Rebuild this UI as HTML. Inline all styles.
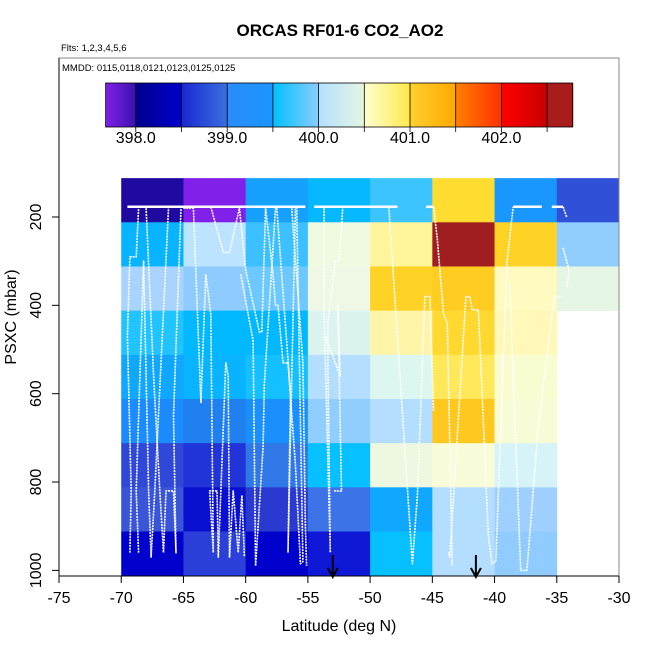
<!DOCTYPE html>
<html><head><meta charset="utf-8"><style>
html,body{margin:0;padding:0;background:#fff;}
svg{display:block;font-family:"Liberation Sans",Arial,sans-serif;}
</style></head><body>
<svg id="chart" width="650" height="650" viewBox="0 0 650 650" xmlns="http://www.w3.org/2000/svg">
<text x="340" y="36" text-anchor="middle" font-size="17" font-weight="bold">ORCAS RF01-6 CO2_AO2</text>
<text x="61" y="51" font-size="9.5">Flts: 1,2,3,4,5,6</text>
<text x="62" y="71" font-size="9.5">MMDD: 0115,0118,0121,0123,0125,0125</text>
<defs id="defs"></defs>
<g id="colorbar"></g>
<g id="cells"></g>
<g id="tracks"></g>
<g id="arrows"></g>
<rect x="59" y="58" width="560" height="518" fill="none" stroke="#888" stroke-width="1"/>
<g id="axes"></g>
<text x="339" y="631" text-anchor="middle" font-size="16">Latitude (deg N)</text>
<text transform="translate(16,317) rotate(-90)" text-anchor="middle" font-size="16">PSXC (mbar)</text>
</svg>
<script>
const latEdges = [-70,-65,-60,-55,-50,-45,-40,-35,-30];
const pressureEdges = [112,212,312,412,512,612,712,812,912,1012];
const cellColors = [
 ["#1E0AA0","#8020E8","#16A0FF","#06B8FF","#3CC4FF","#FFDD30","#1A96FF","#3050D8"],
 ["#08B4FF","#BDE4FF","#3CC0FF","#F0FAE0","#FFF59A","#A01E20","#FFD226","#90CEFF"],
 ["#A8D4FF","#8ECCFF","#6CC8FF","#EEF8E4","#FFD226","#FFCC22","#FFFBC0","#E6F6E4"],
 ["#22C4FF","#00B8FF","#00B8FF","#DCF4F0","#FFF5A8","#FFD830","#FFF8B8",null],
 ["#10A8FF","#08B4FF","#14C0FF","#B4DEFF","#DCF6F0","#FFE85A","#F8FCD0",null],
 ["#1A8CFF","#2080F0","#1A90FF","#90CEFF","#B4DEFF","#FFC81E","#F8FCD6",null],
 ["#3048D8","#2034D8","#3078E8","#06C0FF","#EEF8E0","#F8FCD8","#D6F4F8",null],
 ["#3A56D8","#0A10D0","#2A3AD0","#3C74E8","#10A8FF","#B4DEFF","#A0D0FF",null],
 ["#0000CC","#2A40D8","#0000CC","#1018D8","#06C0FF","#B4DEFF","#90CCFF",null]
];
const xTicks = [-75,-70,-65,-60,-55,-50,-45,-40,-35,-30];
const yTicks = [200,400,600,800,1000];
const cbarTicks = [398.0,399.0,400.0,401.0,402.0];
const cbarBreaks = [397.67,398,398.5,399,399.5,400,400.5,401,401.5,402,402.5,402.78];
const cbarFrom = ["#8020E8","#00008C","#1A28D0","#2A8CF8","#00C0FF","#B4E0FF","#FFFFD0","#FFD030","#FF8000","#FF0000","#A81C1C"];
const cbarTo   = ["#3A10B0","#0000CC","#3A70E0","#1A96FF","#8CCCFF","#E6F6E0","#FFE84A","#FFA800","#FF3000","#C80000","#A81C1C"];
const arrowLats = [-53,-41.5];
const topLegs = [
 [[-69.5,177],[-55.2,177]],
 [[-54.5,177],[-51.4,177]],
 [[-51.5,177],[-47.8,177]],
 [[-45.5,177],[-44.9,177]],
 [[-38.5,177],[-36.2,177]],
 [[-35.4,177],[-34.5,177]]
];
const tracks = [
 [[-69.3,960],[-69.2,820],[-69.5,470],[-69.3,290],[-68.8,290],[-68.6,180]],
 [[-68.6,960],[-68.8,820],[-68.2,300],[-67.8,820],[-67.6,970],[-67.3,820],[-66.2,180]],
 [[-68,180],[-67.4,560],[-66.9,820],[-66.6,960],[-66.4,820],[-65.8,820],[-65.6,960],[-65.8,650],[-65.2,180]],
 [[-65,180],[-64.2,180],[-63.6,620],[-63.2,330],[-62.8,420],[-62.6,960],[-62.9,820],[-62.3,820],[-62.2,970],[-61.6,530],[-61.4,560],[-61.3,970],[-61,820],[-60.6,960],[-60.3,830],[-60.1,970]],
 [[-62.8,177],[-61.8,280],[-61.3,280],[-60.5,180],[-60,320],[-58.9,460],[-58.7,460],[-58.4,180],[-57.8,330],[-57.6,400],[-57.4,400],[-57,530],[-56.6,530],[-56,760],[-55.6,985],[-55.4,980],[-55.9,180]],
 [[-60.4,330],[-59.4,480],[-59.2,990],[-58.6,720],[-58.5,580],[-57.6,180]],
 [[-57.5,180],[-56.4,600],[-56.6,960],[-56,180]],
 [[-56.3,180],[-55.4,530],[-55.2,900],[-55.1,990]],
 [[-53.7,180],[-53.7,420],[-53.2,960],[-53.4,520],[-53.4,440],[-52.8,300],[-52.5,300],[-52.2,180]],
 [[-53.6,470],[-53.2,500],[-52.4,560],[-52.6,400],[-52.3,820],[-52.9,820]],
 [[-48.5,177],[-46.6,985],[-46.2,830],[-45.6,380],[-45.2,380],[-44.9,640]],
 [[-44.9,177],[-44.6,250],[-44.1,420],[-43.8,440],[-43.4,990]],
 [[-43.7,960],[-43.6,970],[-42.3,380],[-42,380],[-41.8,410],[-41.3,410],[-40.5,920],[-40.2,985],[-39.9,980],[-39,300],[-38.5,177]],
 [[-38.8,350],[-37.9,1000],[-37.4,1000],[-36.5,680],[-35.2,380],[-34.6,380]],
 [[-34.5,177],[-34.2,200]],
 [[-34.5,270],[-34.0,320],[-34.2,360]]
];
</script>
<script>
const NS="http://www.w3.org/2000/svg";
const X=lat=>59+(lat+75)*(560/45);
const Y=p=>217+(p-200)*0.4417;
const CB=v=>135.8+(v-398)*91.4;
function mk(tag,attrs,parent){const e=document.createElementNS(NS,tag);for(const k in attrs)e.setAttribute(k,attrs[k]);parent.appendChild(e);return e;}
const defs=document.getElementById('defs');
const cb=document.getElementById('colorbar');
for(let i=0;i<cbarFrom.length;i++){
  const g=mk('linearGradient',{id:'g'+i,x1:'0',x2:'1',y1:'0',y2:'0'},defs);
  mk('stop',{offset:'0','stop-color':cbarFrom[i]},g);
  mk('stop',{offset:'1','stop-color':cbarTo[i]},g);
  const r=mk('rect',{x:CB(cbarBreaks[i]),y:83,width:CB(cbarBreaks[i+1])-CB(cbarBreaks[i])+0.5,height:44,fill:'url(#g'+i+')'},cb);
  
  
}
for(let i=1;i<cbarBreaks.length-1;i++){
  const x=CB(cbarBreaks[i]);
  const l=mk('line',{x1:x,x2:x,y1:83,y2:132,stroke:'#000','stroke-width':0.8},cb);
  
  
}
mk('rect',{x:CB(cbarBreaks[0]),y:83,width:CB(cbarBreaks[cbarBreaks.length-1])-CB(cbarBreaks[0]),height:44,fill:'none',stroke:'#000','stroke-width':0.8},cb);
cbarTicks.forEach(v=>{
  const t=mk('text',{x:CB(v),y:143,'text-anchor':'middle','font-size':16},cb);
  t.textContent=v.toFixed(1);
  
  
});
const cells=document.getElementById('cells');
cellColors.forEach((row,r)=>row.forEach((c,ci)=>{
  if(!c)return;
  const x0=X(latEdges[ci]),x1=X(latEdges[ci+1]);
  const y0=Y(pressureEdges[r]),y1=Math.min(576,Y(pressureEdges[r+1]));
  const e=mk('rect',{x:x0,y:y0,width:x1-x0+0.4,height:y1-y0+0.4,fill:c},cells);
  
  
}));
const tr=document.getElementById('tracks');
const pathD=pts=>pts.map((p,j)=>(j?'L':'M')+X(p[0]).toFixed(1)+','+Y(p[1]).toFixed(1)).join('');
topLegs.forEach(pts=>{
  const e=mk('path',{d:pathD(pts),fill:'none',stroke:'#fff','stroke-width':2.5},tr);
  
  
});
tracks.forEach(pts=>{
  const e=mk('path',{d:pathD(pts),fill:'none',stroke:'#fff','stroke-width':1.6,'stroke-dasharray':'2 0.9','stroke-linejoin':'round'},tr);
  
  
});
const ar=document.getElementById('arrows');
arrowLats.forEach(l=>{
  const x=X(l);
  const e=mk('path',{d:`M${x},555L${x},576M${x-5},568L${x},577L${x+5},568`,stroke:'#000','stroke-width':2,fill:'none'},ar);
  
  
});
const ax=document.getElementById('axes');
mk('line',{x1:59,x2:619,y1:576,y2:576,stroke:'#000','stroke-width':1},ax);
mk('line',{x1:59,x2:59,y1:58,y2:576,stroke:'#000','stroke-width':1},ax);
xTicks.forEach(v=>{
  const x=X(v);
  mk('line',{x1:x,x2:x,y1:576,y2:583,stroke:'#000'},ax);
  const t=mk('text',{x:x,y:603,'text-anchor':'middle','font-size':16},ax);
  t.textContent=v;
  
  
});
yTicks.forEach(v=>{
  const y=Y(v);
  mk('line',{x1:52,x2:59,y1:y,y2:y,stroke:'#000'},ax);
  const t=mk('text',{transform:`translate(41,${y}) rotate(-90)`,'text-anchor':'middle','font-size':16},ax);
  t.textContent=v;
  
  
});
</script>
</body></html>
